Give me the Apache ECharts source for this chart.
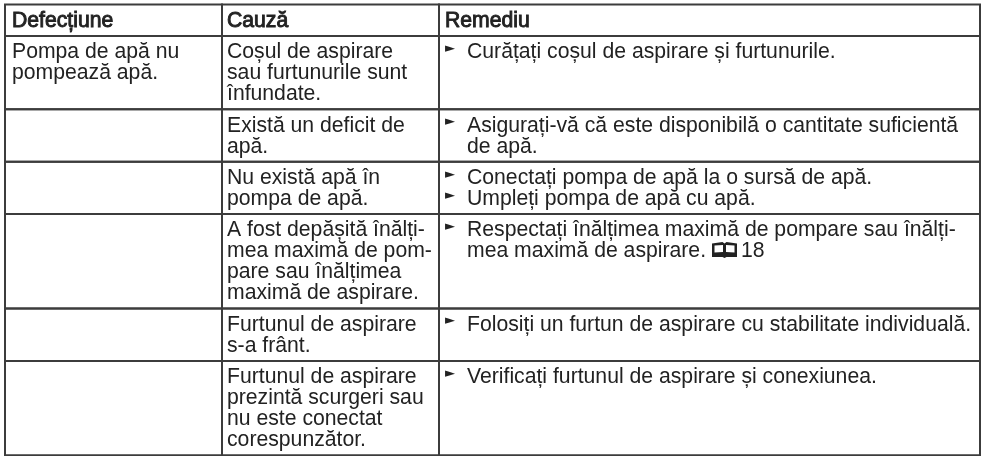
<!DOCTYPE html>
<html>
<head>
<meta charset="utf-8">
<title>Defecțiuni</title>
<style>
html, body { margin: 0; padding: 0; background: #fff; }
#main { width: 982px; height: 456px; }
</style>
<script src="https://cdn.jsdelivr.net/npm/echarts@6/dist/echarts.min.js"></script>
</head>
<body>
<div id="main"></div>
<script>
// table content, one list per column
const headers = ['Defecțiune', 'Cauză', 'Remediu']
const defects = [
  ['Pompa de apă nu', 'pompează apă.'],
  [], [], [], [], []
]
const causes = [
  ['Coșul de aspirare', 'sau furtunurile sunt', 'înfundate.'],
  ['Există un deficit de', 'apă.'],
  ['Nu există apă în', 'pompa de apă.'],
  ['A fost depășită înălți-', 'mea maximă de pom-', 'pare sau înălțimea', 'maximă de aspirare.'],
  ['Furtunul de aspirare', 's-a frânt.'],
  ['Furtunul de aspirare', 'prezintă scurgeri sau', 'nu este conectat', 'corespunzător.']
]
// '►' starts an instruction, other lines continue it; '|' splits off the page reference behind the book icon
const remedies = [
  ['►Curățați coșul de aspirare și furtunurile.'],
  ['►Asigurați-vă că este disponibilă o cantitate suficientă', 'de apă.'],
  ['►Conectați pompa de apă la o sursă de apă.', '►Umpleți pompa de apă cu apă.'],
  ['►Respectați înălțimea maximă de pompare sau înălți-', 'mea maximă de aspirare.|18'],
  ['►Folosiți un furtun de aspirare cu stabilitate individuală.'],
  ['►Verificați furtunul de aspirare și conexiunea.']
]

const columnEdges = [5, 222, 439, 980]
const cellIndent = [7, 5, 6]
const remedyIndent = 28
const tableTop = 4.5
const lineHeight = 21
const rowPad = 10.4
const baselineOffset = 22
const ascent = 16
const fontSize = 21.2
const textColor = '#222'
const borderColor = '#3c3c3c'
const fontFamily = '"Liberation Sans", Arial, sans-serif'
const bookPath = 'M0 1.5 L10.5 0 L12.5 1.5 L14.5 0 L25 1.5 L25 15 L14.5 15 L12.5 16 L10.5 15 L0 15 Z M2.5 3.5 L2.5 10.5 L11 10 L11 3 Z M22.5 3.5 L14 3 L14 10 L22.5 10.5 Z'

let tableRows = [{ cells: headers.map(h => [h]), head: true }]
causes.forEach((c, i) => {
  tableRows.push({ cells: [defects[i], c, remedies[i]], head: false })
})
let rowTops = [tableTop]
tableRows.forEach(r => {
  let n = Math.max(...r.cells.map(c => c.length))
  rowTops.push(rowTops[rowTops.length - 1] + rowPad + n * lineHeight)
})

function textEl (x, base, text, head) {
  return {
    type: 'text',
    style: {
      x,
      y: base - ascent,
      text,
      fill: textColor,
      font: `${fontSize}px ${fontFamily}`,
      stroke: head ? textColor : null,
      lineWidth: head ? 0.9 : 0
    }
  }
}

function renderRow (params, api) {
  let i = api.value(0)
  let r = tableRows[i]
  let top = api.coord([0, rowTops[i]])[1]
  let bottom = api.coord([0, rowTops[i + 1]])[1]
  let children = []
  r.cells.forEach((lines, col) => {
    let x0 = api.coord([columnEdges[col], 0])[0]
    let x1 = api.coord([columnEdges[col + 1], 0])[0]
    children.push({
      type: 'rect',
      shape: { x: x0, y: top, width: x1 - x0, height: bottom - top },
      style: { fill: 'none', stroke: borderColor, lineWidth: 2 }
    })
    lines.forEach((line, k) => {
      let base = top + baselineOffset + k * lineHeight
      if (col < 2 || r.head) {
        children.push(textEl(x0 + cellIndent[col], base, line, r.head))
        return
      }
      if (line[0] === '►') {
        children.push({
          type: 'text',
          style: {
            x: x0 + 6,
            y: base - 16,
            text: '►',
            fill: textColor,
            font: '13px "DejaVu Sans"'
          }
        })
      }
      let parts = line.replace('►', '').split('|')
      children.push(textEl(x0 + remedyIndent, base, parts[0], false))
      if (parts[1]) {
        children.push({
          type: 'path',
          shape: { pathData: bookPath, layout: 'center', x: 712, y: base - 15, width: 25, height: 16 },
          style: { fill: textColor }
        })
        children.push(textEl(741, base, parts[1], false))
      }
    })
  })
  return { type: 'group', children }
}

let chart = echarts.init(document.getElementById('main'))
chart.setOption({
  animation: false,
  backgroundColor: '#fff',
  grid: { left: 0, right: 0, top: 0, bottom: 0 },
  xAxis: { type: 'value', min: 0, max: 982, show: false },
  yAxis: { type: 'value', min: 0, max: 456, inverse: true, show: false },
  series: [{
    type: 'custom',
    coordinateSystem: 'cartesian2d',
    silent: true,
    clip: false,
    data: tableRows.map((r, i) => [i]),
    encode: { x: 0, y: 0 },
    renderItem: renderRow
  }]
})
</script>
</body>
</html>
